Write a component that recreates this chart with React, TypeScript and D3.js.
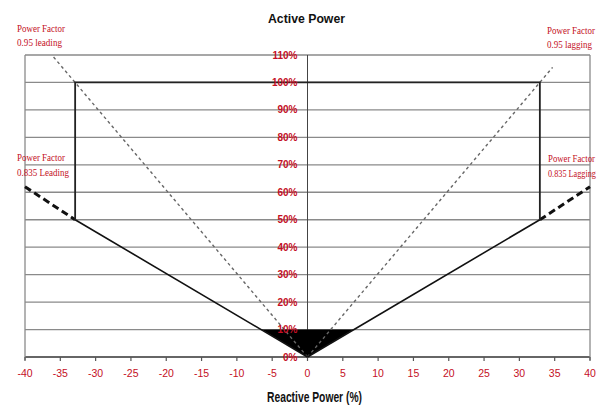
import React, { useEffect, useRef } from 'react';
import * as d3 from 'd3';

// Active power grid (%), reactive power ticks (%)
const yTicks = [0, 10, 20, 30, 40, 50, 60, 70, 80, 90, 100, 110];
const xTicks = [-40, -35, -30, -25, -20, -15, -10, -5, 0, 5, 10, 15, 20, 25, 30, 35, 40];

type Pt = { q: number; p: number };

// 0.95 power factor lines (thin dotted)
const pf095Leading: Pt[] = [{ q: 0, p: 0 }, { q: -36.2, p: 110 }];
const pf095Lagging: Pt[] = [{ q: 0, p: 0 }, { q: 34.7, p: 105.5 }];

// 0.835 power factor lines (solid inside, thick dashed outside)
const pf0835LeadingSolid: Pt[] = [{ q: -32.9, p: 50 }, { q: 0, p: 0 }];
const pf0835LaggingSolid: Pt[] = [{ q: 0, p: 0 }, { q: 32.9, p: 50 }];
const pf0835LeadingDash: Pt[] = [{ q: -40, p: 62 }, { q: -32.9, p: 50 }];
const pf0835LaggingDash: Pt[] = [{ q: 32.9, p: 50 }, { q: 40, p: 62 }];

// capability box
const limitBox: Pt[] = [
  { q: -32.9, p: 50 }, { q: -32.9, p: 100 }, { q: 32.9, p: 100 }, { q: 32.9, p: 50 },
];

// low-power region fill
const lowPowerFill: Pt[] = [{ q: -6.5, p: 10 }, { q: 6.5, p: 10 }, { q: 0, p: 0 }];

const pfLabels = [
  { lines: ['Power Factor', '0.95 leading'], x: 17, y: [32, 46], w: [48, 45], fs: 11 },
  { lines: ['Power Factor', '0.95 lagging'], x: 547, y: [34, 48], w: [48, 45], fs: 11 },
  { lines: ['Power Factor', '0.835 Leading'], x: 17, y: [161, 176], w: [48, 52], fs: 11 },
  { lines: ['Power Factor', '0.835 Lagging'], x: 548, y: [162, 177], w: [47, 48], fs: 9.5 },
];

const RED = '#c40f25';

const App: React.FC = () => {
  const svgRef = useRef<SVGSVGElement>(null);

  useEffect(() => {
    if (!svgRef.current) return;
    const svg = d3.select(svgRef.current);
    svg.selectAll('*').remove();

    const width = 608;
    const height = 407;

    svg.append('rect').attr('width', width).attr('height', height).attr('fill', '#fff');

    const x = d3.scaleLinear().domain([-40, 40]).range([25, 590]);
    const y = d3.scaleLinear().domain([0, 110]).range([357, 55]);

    const line = d3.line<Pt>().x(d => x(d.q)).y(d => y(d.p));

    // horizontal grid
    const grid = svg.append('g');
    yTicks.forEach(t => {
      grid.append('line')
        .attr('x1', x(-40)).attr('x2', x(40))
        .attr('y1', y(t)).attr('y2', y(t))
        .attr('stroke', t === 0 ? '#666' : '#8a8a8a')
        .attr('stroke-width', t === 0 ? 1.8 : 1.3);
    });
    // outer verticals + y axis
    [-40, 40].forEach(v => {
      grid.append('line')
        .attr('x1', x(v)).attr('x2', x(v))
        .attr('y1', y(110)).attr('y2', y(0) + 3)
        .attr('stroke', '#8a8a8a').attr('stroke-width', 1.3);
    });
    grid.append('line')
      .attr('x1', x(0)).attr('x2', x(0))
      .attr('y1', y(110)).attr('y2', y(0))
      .attr('stroke', '#444').attr('stroke-width', 1);

    // x ticks
    xTicks.forEach(t => {
      grid.append('line')
        .attr('x1', x(t)).attr('x2', x(t))
        .attr('y1', y(0)).attr('y2', y(0) + 4)
        .attr('stroke', '#555').attr('stroke-width', 1.2);
    });

    // fill
    svg.append('path')
      .datum(lowPowerFill)
      .attr('d', d => line(d) + 'Z')
      .attr('fill', '#000');

    // 0.95 dotted lines
    [pf095Leading, pf095Lagging].forEach(d => {
      svg.append('path').datum(d).attr('d', line)
        .attr('fill', 'none').attr('stroke', '#666')
        .attr('stroke-width', 1.4).attr('stroke-dasharray', '3,3');
    });

    // 0.835 solid
    [pf0835LeadingSolid, pf0835LaggingSolid].forEach(d => {
      svg.append('path').datum(d).attr('d', line)
        .attr('fill', 'none').attr('stroke', '#111').attr('stroke-width', 1.6);
    });
    // 0.835 dashed
    [pf0835LeadingDash, pf0835LaggingDash].forEach(d => {
      svg.append('path').datum(d).attr('d', line)
        .attr('fill', 'none').attr('stroke', '#111')
        .attr('stroke-width', 3).attr('stroke-dasharray', '7,4');
    });

    // box
    svg.append('path').datum(limitBox).attr('d', line)
      .attr('fill', 'none').attr('stroke', '#222').attr('stroke-width', 1.8);

    // y labels
    const sans = '"Liberation Sans Narrow", "Arial Narrow", "Liberation Sans", sans-serif';
    yTicks.forEach(t => {
      svg.append('text')
        .attr('x', x(0) - 10).attr('y', y(t) + 3.5)
        .attr('text-anchor', 'end')
        .attr('fill', RED)
        .style('font-family', sans)
        .style('font-size', '10px')
        .style('font-weight', 'bold')
        .text(`${t}%`);
    });

    // x labels
    xTicks.forEach(t => {
      svg.append('text')
        .attr('x', x(t)).attr('y', 377)
        .attr('text-anchor', 'middle')
        .attr('fill', RED)
        .style('font-family', sans)
        .style('font-size', '10.5px')
        .text(t < 0 ? `-${Math.abs(t)}` : `${t}`);
    });

    // power factor labels
    pfLabels.forEach(l => {
      l.lines.forEach((s, i) => {
        svg.append('text')
          .attr('x', l.x).attr('y', l.y[i])
          .attr('fill', RED)
          .attr('textLength', l.w[i])
          .attr('lengthAdjust', 'spacingAndGlyphs')
          .style('font-family', '"Liberation Serif", "DejaVu Serif", serif')
          .style('font-size', `${l.fs}px`)
          .text(s);
      });
    });

    // titles
    svg.append('text')
      .attr('x', 268).attr('y', 23)
      .attr('textLength', 77).attr('lengthAdjust', 'spacingAndGlyphs')
      .attr('fill', '#111')
      .style('font-family', sans)
      .style('font-size', '13px').style('font-weight', 'bold')
      .text('Active Power');

    svg.append('text')
      .attr('x', 267).attr('y', 402)
      .attr('textLength', 95).attr('lengthAdjust', 'spacingAndGlyphs')
      .attr('fill', '#111')
      .style('font-family', sans)
      .style('font-size', '15px').style('font-weight', 'bold')
      .text('Reactive Power (%)');
  }, []);

  return (
    <div style={{ position: 'absolute', left: 0, top: 0, width: 608, height: 407 }}>
      <svg ref={svgRef} width={608} height={407} style={{ display: 'block' }} />
    </div>
  );
};

export default App;
